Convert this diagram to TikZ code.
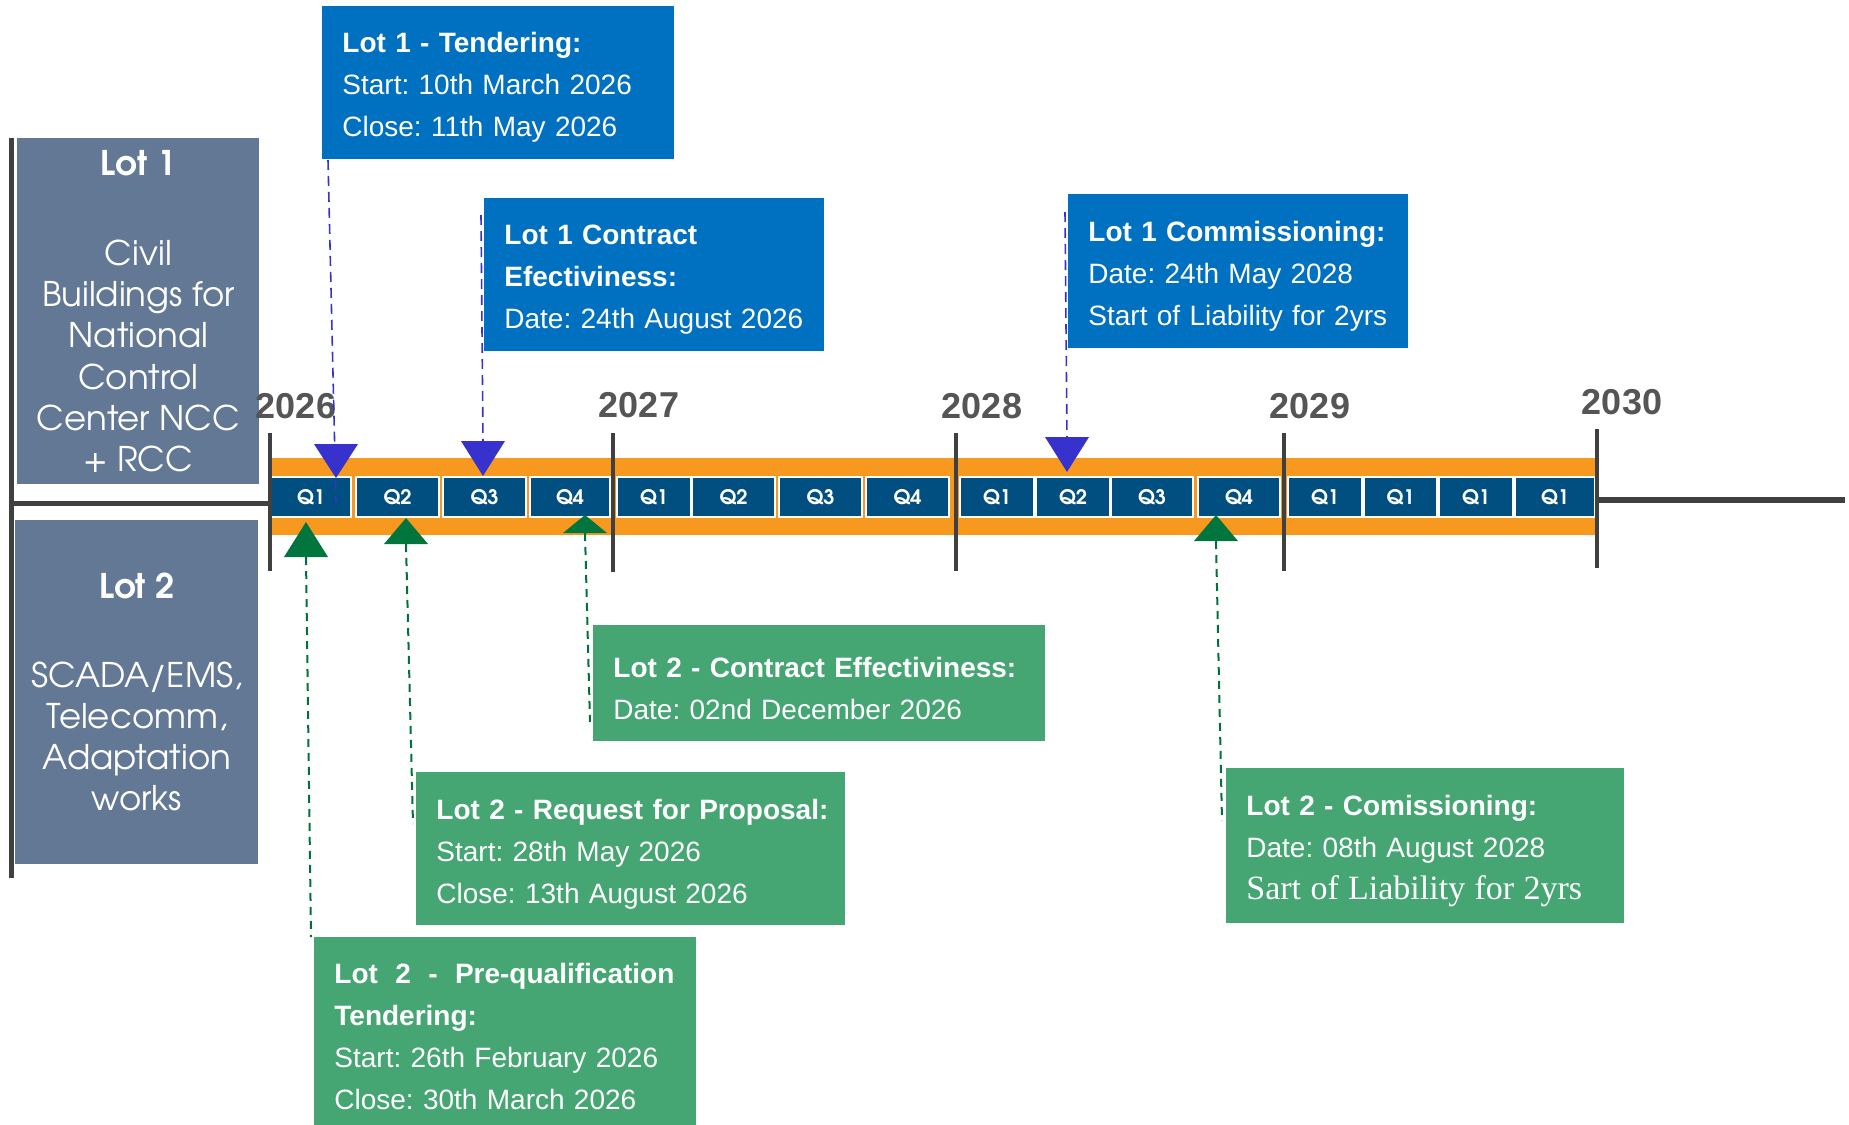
\documentclass[tikz,border=0pt]{standalone}
\usepackage{fontspec}
\setmainfont{Liberation Sans}
\newfontfamily\serifface{Liberation Serif}
\newfontfamily\gothic{texgyreadventor}[Extension=.otf,UprightFont=*-regular,BoldFont=*-bold]
\usetikzlibrary{calc}

\definecolor{panelgray}{RGB}{99,120,149}
\definecolor{lotblue}{RGB}{0,112,192}
\definecolor{lotgreen}{RGB}{69,165,115}
\definecolor{bandorange}{RGB}{247,153,31}
\definecolor{qblue}{RGB}{0,79,128}
\definecolor{lineg}{RGB}{64,64,64}
\definecolor{yearg}{RGB}{85,85,85}
\definecolor{markblue}{RGB}{55,50,205}
\definecolor{markgreen}{RGB}{0,118,62}
\definecolor{dashgreen}{RGB}{0,112,60}

\begin{document}
\begin{tikzpicture}[x=0.5pt,y=-0.5pt,
    panel/.style={fill=panelgray, text=white, anchor=north west, align=center, inner sep=0pt,
      font=\gothic\fontsize{17}{20.65}\selectfont},
    infobox/.style={anchor=north west, inner xsep=10pt, inner ysep=0pt, align=left, text=white,
      font=\fontsize{14}{21}\selectfont\frenchspacing,
      execute at begin node={\rightskip=-8pt plus 1fil\rule{0pt}{15pt}}},
    bluebox/.style={infobox, fill=lotblue},
    greenbox/.style={infobox, fill=lotgreen},
    qbox/.style={fill=qblue, draw=white, line width=0.8pt, minimum height=20pt, inner sep=0pt, text=white,
      font=\gothic\bfseries\fontsize{10}{12}\selectfont},
    yearline/.style={draw=lineg, line width=2.2pt},
    year/.style={anchor=base, text=yearg, font=\bfseries\fontsize{18}{20}\selectfont},
    bluemark/.style={fill=markblue},
    greenmark/.style={fill=markgreen},
    bluedash/.style={draw=markblue, line width=0.8pt, dash pattern=on 5pt off 3pt},
    greendash/.style={draw=dashgreen, line width=1pt, dash pattern=on 4pt off 3pt}]

    \useasboundingbox (0,0) rectangle (1849,1125);

    % lots
    \draw[lineg, line width=2.5pt] (11,138) -- (11,878);
    \draw[lineg, line width=2.5pt] (11,503) -- (269,503);
    \node[panel, minimum width=121pt, minimum height=173pt] (lot1) at (17,138)
      {\textbf{Lot 1}\\[24.4pt]Civil\\Buildings for\\National\\Control\\Center NCC\\+ RCC};
    \node[panel, minimum width=121.5pt, minimum height=172pt] (lot2) at (15,520)
      {\textbf{Lot 2}\\[23.4pt]SCADA/EMS,\\Telecomm,\\Adaptation\\works};

    % timeline
    \fill[bandorange] (271,458) rectangle (1598,535);
    \foreach \xa/\xb/\q [count=\i] in {271/351/Q1, 356/439/Q2, 443/526/Q3, 530/610/Q4,
        617/691/Q1, 692/775/Q2, 779/862/Q3, 866/949/Q4,
        960/1034/Q1, 1036/1110/Q2, 1111/1193/Q3, 1198/1280/Q4,
        1288/1362/Q1, 1364/1437/Q1, 1439/1513/Q1, 1515/1595/Q1}
      \node[qbox, minimum width={(\xb-\xa)*0.5pt}] (q\i) at ({(\xa+\xb)/2},497) {\q};
    \foreach \x/\ya/\yb/\yr/\lx/\ly in {270/433/571/2026/296/418, 613/433/572/2027/639/417,
        956/433/571/2028/982/418, 1284/433/571/2029/1310/418, 1597/429/568/2030/1622/414} {
      \draw[yearline] (\x,\ya) -- (\x,\yb);
      \node[year] (y\yr) at (\lx,\ly) {\yr};
    }
    \coordinate (tail) at (1845,500);
    \draw[lineg, line width=3pt] (1597,500) -- (tail);

    % markers
    \foreach \n/\x/\y/\h in {mA/336/478/34, mB/483/476/35, mC/1067/472/35} {
      \coordinate (\n) at (\x,\y);
      \fill[bluemark] (\n) -- ++(-22,-\h) -- ++(44,0) -- cycle;
    }
    \foreach \n/\x/\y/\h in {mF/306/522/35, mE/406/518/26, mD/585/515/18, mG/1216/515/26} {
      \coordinate (\n) at (\x,\y);
      \fill[greenmark] (\n) -- ++(-22,\h) -- ++(44,0) -- cycle;
    }

    % milestones
    \node[bluebox, minimum width=176pt, minimum height=76.5pt, text width=156pt] (tend1) at (322,6)
      {\textbf{Lot 1 - Tendering:}\\Start: 10th March 2026\\Close: 11th May 2026};
    \node[bluebox, minimum width=170pt, minimum height=76.5pt, text width=150pt] (eff1) at (484,198)
      {\textbf{Lot 1 Contract}\\\textbf{Efectiviness:}\\Date: 24th August 2026};
    \node[bluebox, minimum width=170pt, minimum height=77pt, text width=150pt] (comm1) at (1068,194)
      {\textbf{Lot 1 Commissioning:}\\Date: 24th May 2028\\Start of Liability for 2yrs};
    \node[greenbox, minimum width=226pt, minimum height=58pt, text width=206pt] (eff2) at (593,625)
      {\textbf{Lot 2 - Contract Effectiviness:}\\Date: 02nd December 2026};
    \node[greenbox, minimum width=214.5pt, minimum height=76.5pt, text width=194.5pt] (rfp2) at (416,772)
      {\textbf{Lot 2 - Request for Proposal:}\\Start: 28th May 2026\\Close: 13th August 2026};
    \node[greenbox, minimum width=191pt, minimum height=94pt, text width=171pt] (preq2) at (314,937)
      {\textbf{Lot\hspace{8.7pt}2\hspace{8.7pt}-\hspace{8.7pt}Pre-qualification}\\\textbf{Tendering:}\\Start: 26th February 2026\\Close: 30th March 2026};
    \node[greenbox, minimum width=199pt, minimum height=77.5pt, text width=179pt] (comm2) at (1226,768)
      {\textbf{Lot 2 - Comissioning:}\\Date: 08th August 2028\\{\serifface\fontsize{17}{21}\selectfont Sart of Liability for 2yrs}};

    \draw[bluedash] ($(tend1.south west)+(6,0)$) -- ($(mA)+(0,24)$);
    \draw[bluedash] ($(eff1.north west)+(-3,17)$) -- ($(mB)+(0,-35)$);
    \draw[bluedash] ($(comm1.north west)+(-3,18)$) -- ($(mC)+(0,-35)$);
    \draw[greendash] ($(mF)+(0,35)$) -- ($(preq2.north west)+(-3,0)$);
    \draw[greendash] ($(mE)+(0,26)$) -- ($(rfp2.north west)+(-3,52)$);
    \draw[greendash] ($(mD)+(0,18)$) -- ($(eff2.north west)+(-3,97)$);
    \draw[greendash] ($(mG)+(0,26)$) -- ($(comm2.north west)+(-4,53)$);
    %
\end{tikzpicture}
\end{document}
